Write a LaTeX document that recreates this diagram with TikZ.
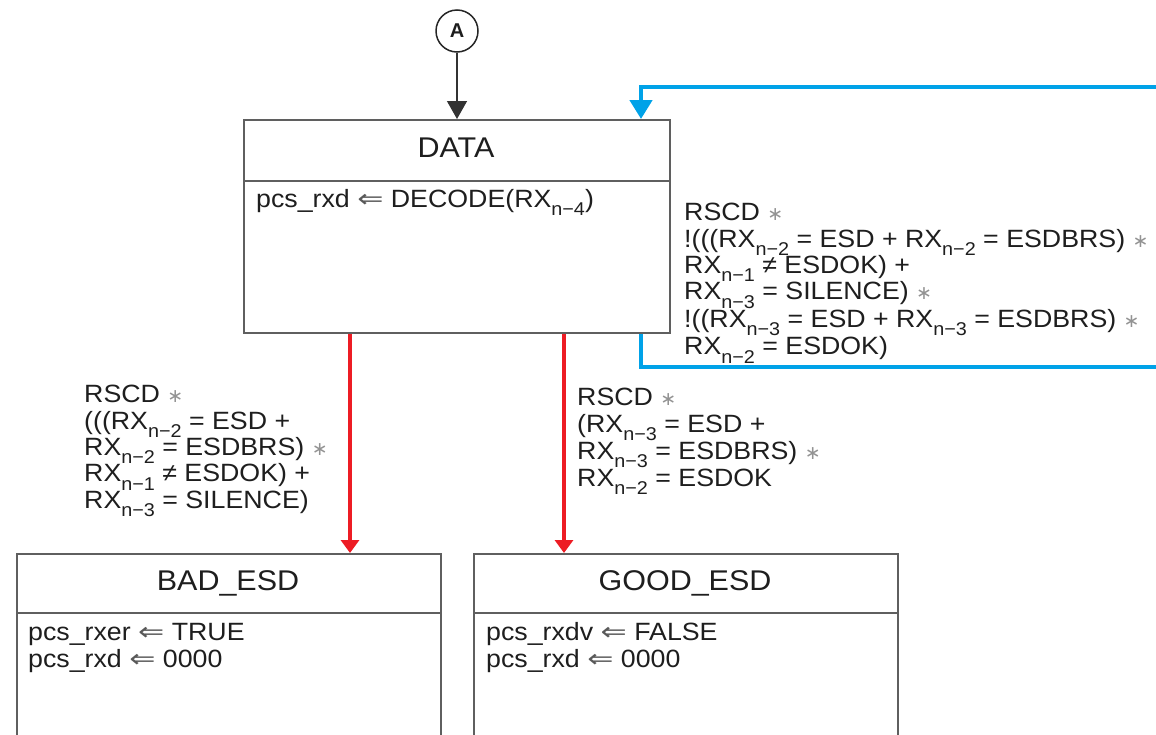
\documentclass[tikz,border=0pt]{standalone}
\usepackage{fontspec}
\setmainfont{Liberation Sans}
\newfontfamily\wide[FakeStretch=1.07]{Liberation Sans}
\newfontfamily\symf{DejaVu Sans}
\newfontfamily\symw[FakeStretch=1.25]{DejaVu Sans}
\usetikzlibrary{arrows.meta}
\definecolor{lnred}{RGB}{237,28,36}
\definecolor{lnblue}{RGB}{0,162,232}
\definecolor{txt}{RGB}{30,30,30}
\definecolor{boxline}{RGB}{95,95,95}
\newcommand{\rx}[1]{RX\raisebox{-0.33em}{\fontsize{18.5}{18}\selectfont #1}}
\newcommand{\st}{{\color{gray!85}\fontsize{19}{19}\symf ∗}}
\newcommand{\lar}{{\color{black!65}\symw ⇐}}
\begin{document}
\begin{tikzpicture}[x=1pt,y=-1pt,
  box/.style={draw=boxline,line width=2pt,minimum width=#1,inner sep=0,anchor=north west},
  divline/.style={draw=boxline,line width=2pt},
  ttl/.style={font=\fontsize{28.5}{33}\selectfont\wide,text=txt,inner sep=0,anchor=base},
  body/.style={font=\fontsize{25}{27}\selectfont\wide,text=txt,inner sep=0,anchor=base west,align=left},
  lbl/.style={font=\fontsize{25}{26.4}\selectfont\wide,text=txt,inner sep=0,anchor=north west,align=left},
  blueline/.style={draw=lnblue,line width=4.5pt},
  redline/.style={draw=lnred,line width=4.5pt,-{Triangle[width=18pt,length=13pt]}},
]
\useasboundingbox (0,0) rectangle (1156,734);
\clip (0,0) rectangle (1156,734);
% boxes
\node[box=426pt,minimum height=213pt] (data) at (243,119) {};
\node[box=424pt,minimum height=260pt] (bad) at (16,553) {};
\node[box=424pt,minimum height=260pt] (good) at (473,553) {};
\coordinate (d1) at (0,181);
\coordinate (d2) at (0,613);
\draw[divline] (data.west |- d1) -- (data.east |- d1);
\draw[divline] (bad.west |- d2) -- (bad.east |- d2);
\draw[divline] (good.west |- d2) -- (good.east |- d2);
% titles
\node[ttl] (dataT) at (456,157) {DATA};
\node[ttl] (badT) at (228,590) {BAD\_ESD};
\node[ttl] (goodT) at (685,590) {GOOD\_ESD};
% bodies
\node[body] (dataB) at (256,207) {pcs\_rxd \lar{} DECODE(\rx{n−4})};
\node[body] (badB) at (28,667) {pcs\_rxer \lar{} TRUE\\pcs\_rxd \lar{} 0000};
\node[body] (goodB) at (486,667) {pcs\_rxdv \lar{} FALSE\\pcs\_rxd \lar{} 0000};
% connector A
\node[circle,draw=black!85,line width=1.5pt,minimum size=42pt,inner sep=0,
  font=\fontsize{20}{20}\selectfont\bfseries,text=txt] (A) at (457,31) {A};
\draw[black!80,line width=1.4pt,-{Triangle[width=20pt,length=18pt]}] (A) -- (A |- data.north);
% blue loop
\coordinate (bin) at (1156,87);
\coordinate (bout) at (1156,367);
\coordinate (bx) at (641,0);
\draw[blueline,-{Triangle[width=22pt,length=19pt]}] (bin) -| (data.north -| bx);
\draw[blueline] (data.south -| bx) |- (bout);
% red transitions
\coordinate (r1) at (350,0);
\coordinate (r2) at (564,0);
\draw[redline] (data.south -| r1) -- (bad.north -| r1);
\draw[redline] (data.south -| r2) -- (good.north -| r2);
% labels
\node[lbl] (lblR) at (684,203) {RSCD \st\\
!(((\rx{n−2} = ESD + \rx{n−2} = ESDBRS) \st\\
\rx{n−1} ≠ ESDOK) +\\
\rx{n−3} = SILENCE) \st\\
!((\rx{n−3} = ESD + \rx{n−3} = ESDBRS) \st\\
\rx{n−2} = ESDOK)};
\node[lbl] (lblL) at (84,385) {RSCD \st\\
(((\rx{n−2} = ESD +\\
\rx{n−2} = ESDBRS) \st\\
\rx{n−1} ≠ ESDOK) +\\
\rx{n−3} = SILENCE)};
\node[lbl] (lblM) at (577,388) {RSCD \st\\
(\rx{n−3} = ESD +\\
\rx{n−3} = ESDBRS) \st\\
\rx{n−2} = ESDOK};
\end{tikzpicture}
\end{document}
